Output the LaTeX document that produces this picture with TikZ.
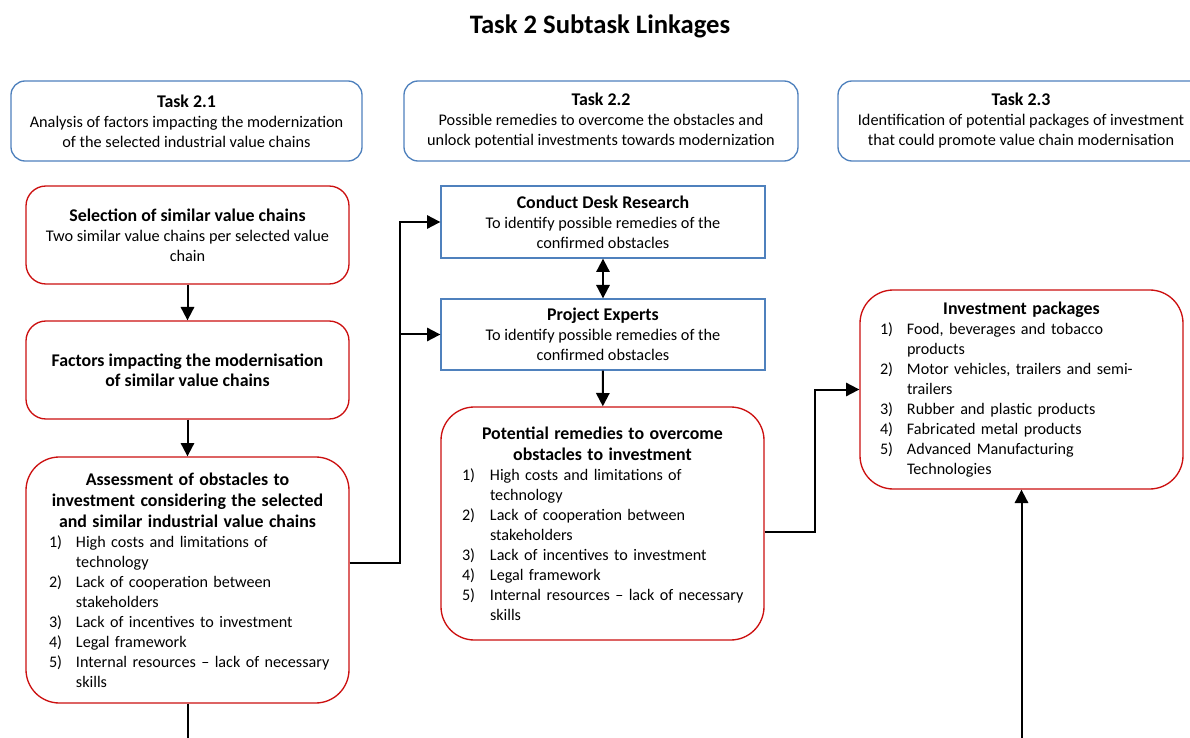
\documentclass[tikz,border=0pt]{standalone}
\usepackage{fontspec}
\setmainfont{Carlito}
\usetikzlibrary{arrows.meta,calc}
\definecolor{boxred}{RGB}{204,16,16}
\definecolor{boxblue}{RGB}{79,129,189}
\newlength\lioff
\newlength\liw
\newcommand\hf{\fontsize{13.4}{15.6}\selectfont\bfseries}
\newcommand\hd[1]{{\centering\hf\noindent #1\par}}
\newcommand\li[2]{{\fontsize{12.1}{15}\selectfont\raggedright\leftskip=\lioff\hangindent=\liw\hangafter=1\noindent\makebox[\liw][l]{#1}#2\par}}
\begin{document}
\begin{tikzpicture}[x=0.75pt,y=-0.75pt,
  txt/.style={font=\fontsize{12.2}{15}\selectfont},
  taskbox/.style={txt,draw=boxblue,line width=1pt,rounded corners=10.5pt,minimum height=60pt,align=center,inner sep=0pt},
  redbox/.style={txt,draw=boxred,line width=1pt,inner sep=0pt,minimum width=242.25pt},
  bluebox/.style={txt,draw=boxblue,line width=1pt,inner sep=0pt,minimum width=243pt,align=center},
  conn/.style={line width=1.5pt},
  arr/.style={conn,-{Triangle[length=10pt,width=10pt]}},
  darr/.style={conn,{Triangle[length=10pt,width=10pt]}-{Triangle[length=10pt,width=10pt]}}]
\useasboundingbox (0,0) rectangle (1190,738);
\fill[white] (0,0) rectangle (1190,738);
\clip (0,0) rectangle (1190,738);

\node[font=\fontsize{20}{24}\selectfont\bfseries] (title) at (600,26) {Task 2 Subtask Linkages};

\node[taskbox,minimum width=263.25pt] (t1) at (186.5,121) {{\hf Task 2.1}\\Analysis of factors impacting the modernization\\of the selected industrial value chains};
\node[taskbox,minimum width=295.5pt] (t2) at (601,121) {{\hf Task 2.2}\\Possible remedies to overcome the obstacles and\\unlock potential investments towards modernization};
\node[taskbox,minimum width=274.5pt] (t3) at (1021,121) {{\hf Task 2.3}\\Identification of potential packages of investment\\that could promote value chain modernisation};

\node[redbox,rounded corners=15pt,minimum height=73.5pt,align=center] (sel) at (187.5,235) {{\hf Selection of similar value chains}\\Two similar value chains per selected value\\chain};
\node[redbox,rounded corners=15pt,minimum height=73.5pt,align=center] (fac) at (187.5,370) {{\hf Factors impacting the modernisation}\\{\hf of similar value chains}};
\node[redbox,rounded corners=25pt,minimum height=184.5pt,text width=242.25pt] (ass) at (187.5,580) {%
\setlength\lioff{17.25pt}\setlength\liw{20.25pt}%
\hd{Assessment of obstacles to\\investment considering the selected\\and similar industrial value chains}
\li{1)}{High costs and limitations of\newline technology}
\li{2)}{Lack of cooperation between\newline stakeholders}
\li{3)}{Lack of incentives to investment}
\li{4)}{Legal framework}
\li{5)}{Internal resources -- lack of necessary\newline skills}};

\node[bluebox,minimum height=54pt] (desk) at (603,222) {{\hf Conduct Desk Research}\\To identify possible remedies of the\\confirmed obstacles};
\node[bluebox,minimum height=53.25pt] (proj) at (603,334.5) {{\hf Project Experts}\\To identify possible remedies of the\\confirmed obstacles};
\node[redbox,rounded corners=25pt,minimum height=174.75pt,text width=242.25pt] (pot) at (602.5,523.5) {%
\setlength\lioff{15.75pt}\setlength\liw{21pt}%
\hd{Potential remedies to overcome\\obstacles to investment}
\li{1)}{High costs and limitations of\newline technology}
\li{2)}{Lack of cooperation between\newline stakeholders}
\li{3)}{Lack of incentives to investment}
\li{4)}{Legal framework}
\li{5)}{Internal resources -- lack of necessary\newline skills}};

\node[redbox,rounded corners=25pt,minimum height=149.25pt,text width=242.25pt] (inv) at (1021.5,389.5) {%
\setlength\lioff{15pt}\setlength\liw{20.25pt}%
\hd{Investment packages}
\li{1)}{Food, beverages and tobacco\newline products}
\li{2)}{Motor vehicles, trailers and semi-\newline trailers}
\li{3)}{Rubber and plastic products}
\li{4)}{Fabricated metal products}
\li{5)}{Advanced Manufacturing\newline Technologies}};

\coordinate (j1) at (400,563);
\coordinate (j2) at (815,532);
\coordinate (b1) at (187.5,750);
\coordinate (b2) at (1021.5,750);

\draw[arr] (sel) -- (fac);
\draw[arr] (fac) -- (ass);
\draw[arr] (ass.east |- j1) -- (j1) |- (desk.west);
\draw[arr] (j1 |- proj.west) -- (proj.west);
\draw[darr] (desk) -- (proj);
\draw[arr] (proj) -- (pot);
\draw[arr] (pot.east |- j2) -- (j2) |- (inv.west);
\draw[conn] (ass) -- (b1);
\draw[arr] (b2) -- (inv);
\end{tikzpicture}
\end{document}
